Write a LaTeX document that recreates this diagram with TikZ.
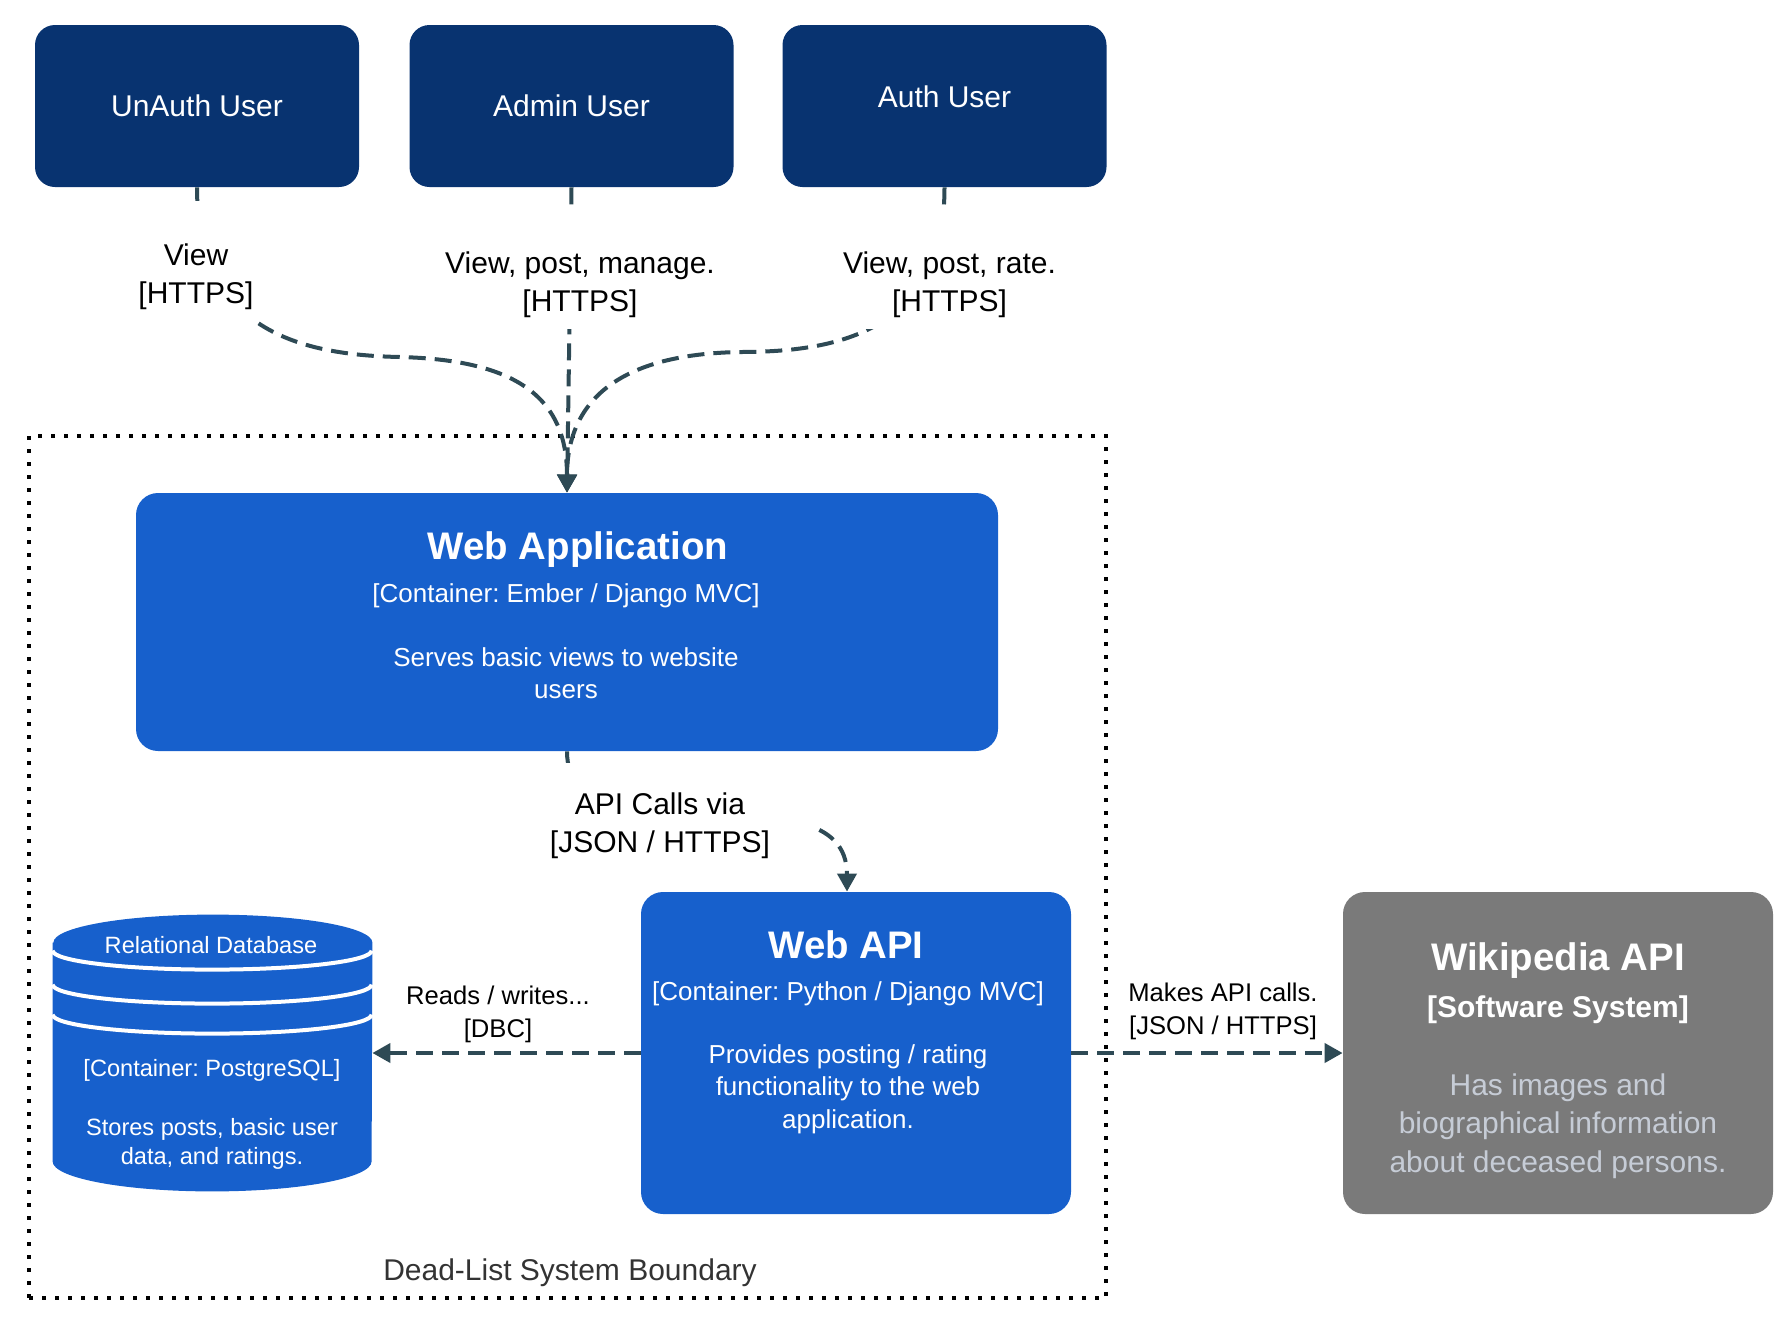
\documentclass[tikz,border=0pt]{standalone}
\usepackage{fontspec}
\setmainfont{Liberation Sans}
\usetikzlibrary{arrows.meta}
\frenchspacing

\definecolor{usernavy}{HTML}{083370}
\definecolor{contblue}{HTML}{1760CC}
\definecolor{extgray}{HTML}{7A7A7A}
\definecolor{extdesc}{HTML}{C6CCD6}
\definecolor{flowcol}{HTML}{2E4A55}
\definecolor{bndtext}{HTML}{333333}

\newcommand{\twolines}[2]{\begin{tabular}[b]{@{}c@{}}#1\\{}#2\end{tabular}}

\tikzset{
  user/.style={fill=usernavy, rounded corners=10pt, minimum width=162pt, minimum height=81pt,
    text=white, font=\fontsize{15}{18}\selectfont},
  contbox/.style={fill=contblue, rounded corners=11pt, inner sep=0pt},
  extbox/.style={fill=extgray, rounded corners=11pt, inner sep=0pt},
  dbbox/.style={inner sep=0pt, minimum width=159.5pt, minimum height=138pt},
  dbring/.style={draw=white, line width=2pt},
  titletxt/.style={text=white, font=\bfseries\fontsize{19.2}{23}\selectfont, inner sep=0pt, anchor=base},
  techtxt/.style={text=white, font=\fontsize{13}{16}\selectfont, inner sep=0pt, anchor=base},
  desctxt/.style={text=white, align=center, font=\fontsize{13}{16.25}\selectfont, inner sep=0pt, anchor=north},
  flow/.style={draw=flowcol, line width=2pt, dash pattern=on 8.5pt off 4.5pt,
    -{Triangle[length=9pt, width=9.5pt]}},
  lbl/.style={fill=white, align=center, inner sep=2pt, font=\fontsize{12.8}{16.5}\selectfont},
  toplbl/.style={fill=white, inner xsep=3pt, inner ysep=0pt, text height=51pt, text depth=9pt,
    anchor=base, font=\fontsize{15}{19}\selectfont},
  boundary/.style={draw=black, line width=2pt, dash pattern=on 2pt off 4.5pt, minimum width=538.5pt,
    minimum height=431pt},
}

\begin{document}
\begin{tikzpicture}[x=0.5pt, y=-0.5pt]
  \useasboundingbox (0,0) rectangle (1790,1340);

  % system boundary
  \node[boundary] (sysbound) at (567.5,867) {};
  \node[anchor=base, text=bndtext, font=\fontsize{15}{18}\selectfont] (sysboundlbl) at (570,1280)
    {Dead-List System Boundary};

  % actors
  \node[user] (unauth) at (197,106) {UnAuth User};
  \node[user] (admin) at (571.5,106) {Admin User};
  \node[user, text depth=9pt] (auth) at (944.5,106) {Auth User};

  % web application
  \node[contbox, minimum width=431pt, minimum height=129pt] (webapp) at (567,622) {};
  \node[titletxt] (webapptitle) at (578,559) {Web Application};
  \node[techtxt] (webapptech) at (566,602) {[Container: Ember / Django MVC]};
  \node[desctxt] (webappdesc) at (566,647) {Serves basic views to website\\users};

  % web api
  \node[contbox, minimum width=215pt, minimum height=161pt] (webapi) at (856,1053) {};
  \node[titletxt] (webapititle) at (846,958) {Web API};
  \node[techtxt] (webapitech) at (848,1000) {[Container: Python / Django MVC]};
  \node[desctxt] (webapidesc) at (848,1044)
    {Provides posting / rating\\functionality to the web\\application.};

  % database
  \node[dbbox] (db) at (212.5,1053) {};
  \fill[contblue] ([yshift=-14pt]db.north west) -- ([yshift=15pt]db.south west)
    arc[start angle=180, end angle=360, x radius=79.75pt, y radius=15pt]
    -- ([yshift=-14pt]db.north east)
    arc[start angle=0, end angle=180, x radius=79.75pt, y radius=14pt] -- cycle;
  \foreach \ry in {18pt,35pt,50pt}
    \draw[dbring] ([yshift=-\ry]db.north west) arc[start angle=180, end angle=360, x radius=79.75pt, y radius=9.5pt];
  \node[anchor=base, text=white, inner sep=0pt, font=\fontsize{11.8}{14}\selectfont] (dbtitle) at (211,953)
    {Relational Database};
  \node[anchor=base, text=white, inner sep=0pt, font=\fontsize{11.8}{14}\selectfont] (dbtech) at (212,1076)
    {[Container: PostgreSQL]};
  \node[desctxt, font=\fontsize{11.8}{14.5}\selectfont] (dbdesc) at (212,1118)
    {Stores posts, basic user\\data, and ratings.};

  % external system
  \node[extbox, minimum width=215pt, minimum height=161pt] (wiki) at (1558,1053) {};
  \node[titletxt] (wikititle) at (1558,970) {Wikipedia API};
  \node[titletxt, font=\bfseries\fontsize{15}{18}\selectfont] (wikitype) at (1558,1017) {[Software System]};
  \node[desctxt, text=extdesc, font=\fontsize{15}{19.25}\selectfont] (wikidesc) at (1558,1073)
    {Has images and\\biographical information\\about deceased persons.};

  % relations
  \draw[flow] (unauth.south) .. controls (197,330) and (300,355) .. (400,357)
    .. controls (520,360) and (567,400) .. (webapp.north);
  \draw[flow] (admin.south) -- (webapp.north);
  \draw[flow] (auth.south) .. controls (944.5,330) and (840,352) .. (740,352)
    .. controls (620,354) and (567,400) .. (webapp.north);
  \draw[flow] (webapp.south) .. controls (567,870) and (847,760) .. ([xshift=-4.5pt]webapi.north);
  \draw[flow] (webapi.west) -- (db.east);
  \draw[flow] (webapi.east) -- (wiki.west);

  % relation labels
  \node[toplbl] (unauthlbl) at (196,303) {\twolines{View}{[HTTPS]}};
  \node[toplbl] (adminlbl) at (580,311) {\twolines{View, post, manage.}{[HTTPS]}};
  \node[toplbl] (authlbl) at (949.5,311) {\twolines{View, post, rate.}{[HTTPS]}};
  \node[lbl, inner xsep=24pt, inner ysep=15pt, font=\fontsize{15}{19}\selectfont] (apilbl) at (660,825.5)
    {API Calls via\\{[JSON / HTTPS]}};
  \node[lbl] (dblbl) at (498,1014) {Reads / writes...\\{[DBC]}};
  \node[lbl] (wikilbl) at (1223,1011.5) {Makes API calls.\\{[JSON / HTTPS]}};
\end{tikzpicture}
\end{document}
